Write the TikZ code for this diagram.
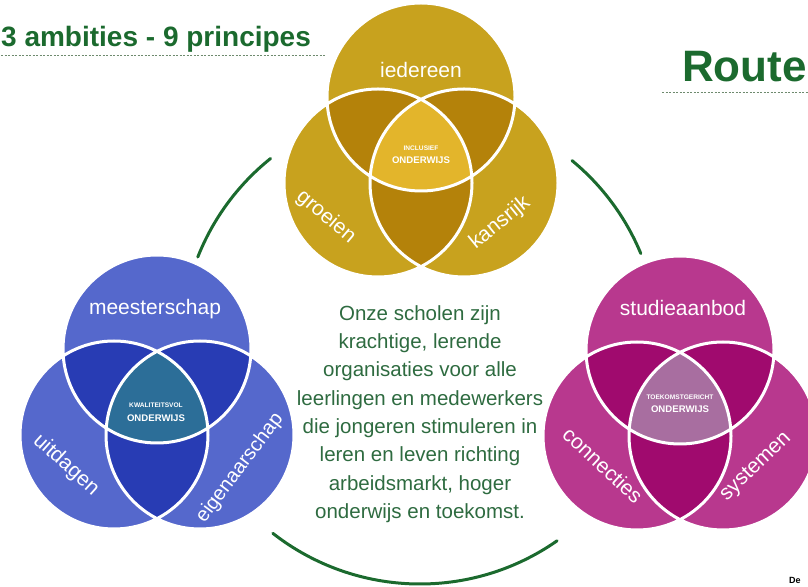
\documentclass[tikz,border=0pt]{standalone}
\usepackage{fontspec}
\setmainfont{Liberation Sans}
\usepackage{tikz}
\definecolor{y_base}{HTML}{C8A21E}
\definecolor{y_dark}{HTML}{B4820A}
\definecolor{y_light}{HTML}{E3B52B}
\definecolor{b_base}{HTML}{5568CC}
\definecolor{b_dark}{HTML}{283CB4}
\definecolor{b_light}{HTML}{2C6E98}
\definecolor{p_base}{HTML}{B8388E}
\definecolor{p_dark}{HTML}{A00A6E}
\definecolor{p_light}{HTML}{A86EA0}
\definecolor{route_green}{HTML}{1B6A2E}
\definecolor{text_green}{HTML}{2E6B40}
\definecolor{dash_grey}{HTML}{6E8A6E}
\tikzset{
	pics/venn/.style n args={3}{code={
		\fill[#1] (0,44) circle (94pt) (-43,-42) circle (94pt) (43,-42) circle (94pt);
		\begin{scope}
			\clip (0,44) circle (94pt);
			\fill[#2] (-43,-42) circle (94pt) (43,-42) circle (94pt);
		\end{scope}
		\begin{scope}
			\clip (-43,-42) circle (94pt);
			\fill[#2] (43,-42) circle (94pt);
		\end{scope}
		\begin{scope}
			\clip (0,44) circle (94pt);
			\clip (-43,-42) circle (94pt);
			\fill[#3] (43,-42) circle (94pt);
		\end{scope}
		\draw[white, line width=3pt] (0,44) circle (94pt) (-43,-42) circle (94pt) (43,-42) circle (94pt);
	}},
	venn_label/.style = {
		white,
		inner sep=0pt,
		font=\fontsize{21}{21}\selectfont
	},
	core_small/.style = {
		white,
		inner sep=0pt,
		font=\fontsize{6.6}{7}\selectfont\bfseries
	},
	core_big/.style = {
		white,
		inner sep=0pt,
		font=\fontsize{9.6}{10}\selectfont\bfseries
	},
	head_text/.style = {
		route_green,
		inner sep=0pt,
		anchor=base west,
		font=\bfseries
	},
	head_line/.style = {
		dash_grey,
		line width=0.8pt,
		dash pattern=on 2pt off 1.5pt
	},
	ring_arc/.style = {
		route_green,
		line width=3pt,
		line cap=round
	},
}
\begin{document}
\begin{tikzpicture}[x=1pt, y=1pt]
\clip (0,0) rectangle (808,586);
\coordinate (ring) at (420,241);
\draw [ring_arc] ([shift={(128.7:239pt)}]ring) arc [start angle=128.7, end angle=158.4, radius=239pt];
\draw [ring_arc] ([shift={(22.5:239pt)}]ring) arc [start angle=22.5, end angle=50.5, radius=239pt];
\draw [ring_arc] ([shift={(-128:239pt)}]ring) arc [start angle=-128, end angle=-55, radius=239pt];
% de drie ambities
\pic at (421,445) {venn={y_base}{y_dark}{y_light}};
\pic at (157,193) {venn={b_base}{b_dark}{b_light}};
\pic at (680,192) {venn={p_base}{p_dark}{p_light}};
% inclusief
\node [venn_label] (iedereen) at (421,516) {iedereen};
\node [venn_label, rotate=-40] (groeien) at (326,369) {groeien};
\node [venn_label, rotate=39] (kansrijk) at (500,363) {kansrijk};
\node [core_small] (inclusief) at (421,438) {INCLUSIEF};
\node [core_big] (incl_ow) at (421,426) {ONDERWIJS};
% kwaliteitsvol
\node [venn_label] (meesterschap) at (155,277) {meesterschap};
\node [venn_label, rotate=-42] (uitdagen) at (66,121) {uitdagen};
\node [venn_label, rotate=53, font=\fontsize{20}{20}\selectfont] (eigenaarschap) at (240,118) {eigenaarschap};
\node [core_small] (kwaliteitsvol) at (156,181) {KWALITEITSVOL};
\node [core_big] (kwal_ow) at (156,168) {ONDERWIJS};
% toekomstgericht
\node [venn_label] (studieaanbod) at (683,278) {studieaanbod};
\node [venn_label, rotate=-43] (connecties) at (603,121) {connecties};
\node [venn_label, rotate=44] (systemen) at (756,119) {systemen};
\node [core_small] (toekomstgericht) at (680,189) {TOEKOMSTGERICHT};
\node [core_big] (toek_ow) at (680,177) {ONDERWIJS};
% missie in het midden
\node [text_green, align=center, inner sep=0pt, font=\fontsize{20.5}{28.3}\selectfont] (missie) at (420,172) {Onze scholen zijn\\krachtige, lerende\\organisaties voor alle\\leerlingen en medewerkers\\die jongeren stimuleren in\\leren en leven richting\\arbeidsmarkt, hoger\\onderwijs en toekomst.};
% koppen
\node [head_text, font=\fontsize{28}{28}\selectfont\bfseries] (titel) at (1,539) {3 ambities - 9 principes};
\draw [head_line] ([yshift=-8pt]titel.base west) -- ++(325,0);
\node [head_text, font=\fontsize{44}{44}\selectfont\bfseries] (route) at (682,504) {Route};
\draw [head_line] ([shift={(-20pt,-10pt)}]route.base west) -- ++(150,0);
\node [inner sep=0pt, anchor=base west, font=\fontsize{9}{9}\selectfont\bfseries] (de) at (789,3) {De};
\end{tikzpicture}
\end{document}
